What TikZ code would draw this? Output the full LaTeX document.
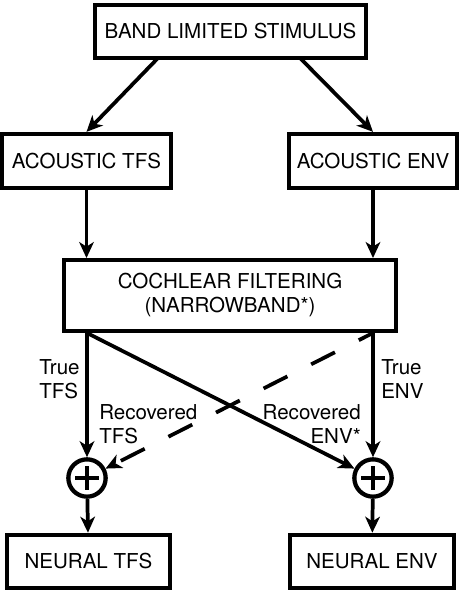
\documentclass[tikz,border=0pt]{standalone}
\usepackage{fontspec}
\setmainfont{TeX Gyre Heros}
\usetikzlibrary{arrows.meta}

\tikzset{
  blockbox/.style={draw, line width=3.2pt, rectangle, inner sep=0pt, align=center},
  flowarrow/.style={line width=2.8pt, -{Stealth[length=12pt,width=11pt,inset=3.5pt]}},
  sumnode/.style={draw, circle, line width=3.2pt, minimum size=28pt, inner sep=0pt},
  lbl/.style={inner sep=0.75pt, font=\fontsize{15.4}{18}\selectfont}
}

\begin{document}
\begin{tikzpicture}[x=0.75pt,y=0.75pt,yscale=-1,xscale=1,font=\fontsize{15.4}{18}\selectfont]
\useasboundingbox (0,0) rectangle (462,592);

%Shape: Rectangle [id:stim]
\node[blockbox, minimum width=203pt, minimum height=40pt] (stim) at (230.5,31.5) {BAND LIMITED STIMULUS};
%Shape: Rectangle [id:acctfs]
\node[blockbox, minimum width=127pt, minimum height=40.5pt] (accTFS) at (86.5,161) {ACOUSTIC TFS};
%Shape: Rectangle [id:accenv]
\node[blockbox, minimum width=126pt, minimum height=40.5pt] (accENV) at (373,161) {ACOUSTIC ENV};
%Shape: Rectangle [id:coch]
\node[blockbox, minimum width=249pt, minimum height=53pt] (coch) at (230,295.5) {COCHLEAR FILTERING\\(NARROWBAND*)};
%Shape: Circle [id:suml]
\node[sumnode] (sumL) at (87,478) {};
%Shape: Circle [id:sumr]
\node[sumnode] (sumR) at (373,478) {};
%Shape: Rectangle [id:neutfs]
\node[blockbox, minimum width=122pt, minimum height=40pt] (neuTFS) at (88.5,561.5) {NEURAL TFS};
%Shape: Rectangle [id:neuenv]
\node[blockbox, minimum width=123pt, minimum height=40pt] (neuENV) at (372,561.5) {NEURAL ENV};

%plus signs
\draw[line width=3.2pt] ([xshift=-9pt]sumL.center) -- ([xshift=9pt]sumL.center) ([yshift=-9pt]sumL.center) -- ([yshift=9pt]sumL.center);
\draw[line width=3.2pt] ([xshift=-9pt]sumR.center) -- ([xshift=9pt]sumR.center) ([yshift=-9pt]sumR.center) -- ([yshift=9pt]sumR.center);

\coordinate (stimL) at (158,58);
\coordinate (stimR) at (300,58);
\coordinate (cochL) at (coch.south -| sumL);
\coordinate (cochR) at (coch.south -| sumR);

%Straight Lines with arrows
\draw[flowarrow] (stimL) -- (accTFS.north);
\draw[flowarrow] (stimR) -- (accENV.north);
\draw[flowarrow] (accTFS) -- (accTFS |- coch.north);
\draw[flowarrow] (accENV) -- (accENV |- coch.north);
\draw[flowarrow] (cochL) -- (sumL);
\draw[flowarrow] (cochR) -- (sumR);
\draw[flowarrow] (cochL) -- (sumR);
\draw[flowarrow, dash pattern=on 20pt off 20pt, dash phase=8pt] (cochR) -- (sumL);
\draw[flowarrow] (sumL) -- (neuTFS);
\draw[flowarrow] (sumR) -- (neuENV);

% Text Node
\node[lbl, anchor=west, align=left] (truetfs) at (38,379) {True\\TFS};
% Text Node
\node[lbl, anchor=west, align=left] (trueenv) at (380,379) {True\\ENV};
% Text Node
\node[lbl, anchor=west, align=left] (rectfs) at (98,424) {Recovered\\TFS};
% Text Node
\node[lbl, anchor=east, align=right] (recenv) at (362,424) {Recovered\\ENV*};

\end{tikzpicture}
\end{document}
